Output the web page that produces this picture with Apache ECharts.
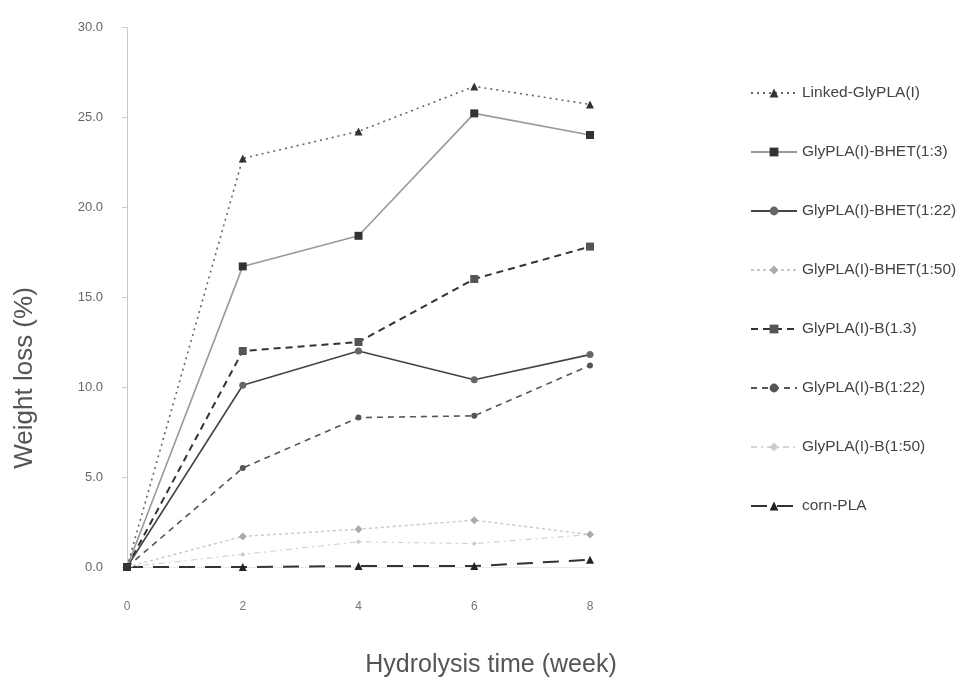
<!DOCTYPE html>
<html><head><meta charset="utf-8">
<script src="https://cdn.jsdelivr.net/npm/echarts@6/dist/echarts.min.js"></script>
<style>html,body{margin:0;padding:0;background:#fff}#c{width:961px;height:681px}</style>
</head><body><div id="c"></div>
<script>
const weeks = [0, 2, 4, 6, 8];
const yTicks = [0, 5, 10, 15, 20, 25, 30];
const linkedGlyPLA = [0, 22.7, 24.2, 26.7, 25.7];
const bhet13 = [0, 16.7, 18.4, 25.2, 24.0];
const bhet122 = [0, 10.1, 12.0, 10.4, 11.8];
const bhet150 = [0, 1.7, 2.1, 2.6, 1.8];
const b13 = [0, 12.0, 12.5, 16.0, 17.8];
const b122 = [0, 5.5, 8.3, 8.4, 11.2];
const b150 = [0, 0.7, 1.4, 1.3, 1.8];
const cornPLA = [0, 0, 0.05, 0.05, 0.4];
const names = ['Linked-GlyPLA(I)', 'GlyPLA(I)-BHET(1:3)', 'GlyPLA(I)-BHET(1:22)', 'GlyPLA(I)-BHET(1:50)',
  'GlyPLA(I)-B(1.3)', 'GlyPLA(I)-B(1:22)', 'GlyPLA(I)-B(1:50)', 'corn-PLA'];
const xTitle = 'Hydrolysis time (week)';
const yTitle = 'Weight loss (%)';
const values = [linkedGlyPLA, bhet13, bhet122, bhet150, b13, b122, b150, cornPLA];
const styles = [
  {line: '#666', width: 1.6, type: [2, 4], sym: 'triangle', symColor: '#333', size: 8},
  {line: '#999', width: 1.6, type: 'solid', sym: 'rect', symColor: '#333', size: 8},
  {line: '#444', width: 1.6, type: 'solid', sym: 'circle', symColor: '#666', size: 7},
  {line: '#c8c8c8', width: 1.4, type: [3, 3], sym: 'diamond', symColor: '#aaa', size: 8},
  {line: '#333', width: 2, type: [7, 5], sym: 'rect', symColor: '#555', size: 8},
  {line: '#555', width: 1.6, type: [6, 5], sym: 'circle', symColor: '#555', size: 6},
  {line: '#d4d4d4', width: 1.2, type: [6, 4, 2, 4], sym: 'diamond', symColor: '#ccc', size: 5},
  {line: '#333', width: 2, type: [16, 10], sym: 'triangle', symColor: '#222', size: 8}
];
const series = names.map((n, i) => ({
  name: n, type: 'line',
  data: weeks.map((w, j) => [w, values[i][j]]),
  symbol: styles[i].sym, symbolSize: styles[i].size,
  lineStyle: {color: styles[i].line, width: styles[i].width, type: styles[i].type},
  itemStyle: {color: styles[i].symColor},
  z: 10 - i
}));
const chart = echarts.init(document.getElementById('c'), null, {renderer: 'canvas'});
chart.setOption({
  animation: false,
  backgroundColor: '#fff',
  grid: {left: 127, right: 371, top: 27, bottom: 114},
  legend: {
    orient: 'vertical', left: 745, top: 80, itemGap: 43, itemWidth: 46, itemHeight: 11,
    textStyle: {fontFamily: 'Liberation Sans', fontSize: 15.5, color: '#444'},
    data: names
  },
  graphic: [
    {type: 'text', x: 491, y: 665,
      style: {text: xTitle, textAlign: 'center', textVerticalAlign: 'middle',
        font: '25px "Liberation Sans"', fill: '#555'}},
    {type: 'text', x: 25, y: 378, rotation: Math.PI / 2,
      style: {text: yTitle, textAlign: 'center', textVerticalAlign: 'middle',
        font: '26px "Liberation Sans"', fill: '#555'}}
  ],
  xAxis: {
    type: 'value', min: 0, max: 8, interval: 2,
    axisLine: {show: true, lineStyle: {color: '#e4e4e4', type: 'dotted'}},
    axisTick: {show: false},
    splitLine: {show: false},
    axisLabel: {margin: 34, fontFamily: 'Liberation Sans', fontSize: 12, color: '#777'}
  },
  yAxis: {
    type: 'value', min: 0, max: 30, interval: 5,
    axisLine: {show: true, lineStyle: {color: '#bbb', type: 'dotted', width: 1}},
    axisTick: {show: true, length: 5, lineStyle: {color: '#ccc'}},
    splitLine: {show: false},
    axisLabel: {margin: 24, fontFamily: 'Liberation Sans', fontSize: 13, color: '#666',
      formatter: v => v.toFixed(1)}
  },
  series: series
});
</script>
</body></html>
